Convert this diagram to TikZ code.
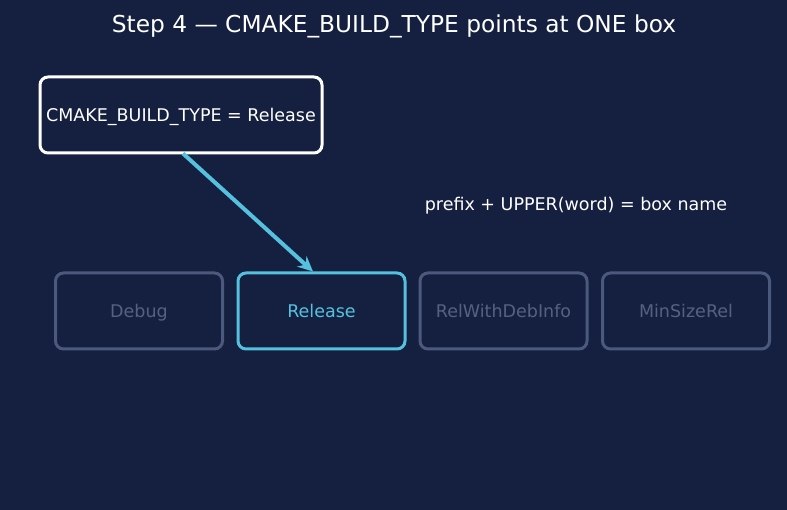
\documentclass[tikz,border=0pt]{standalone}
\usepackage{fontspec}
\setmainfont{DejaVu Sans}
\usetikzlibrary{arrows.meta,calc}
\definecolor{bg}{HTML}{152040}
\definecolor{cyanc}{HTML}{56C1DE}
\definecolor{grayb}{HTML}{4B5A7C}
\definecolor{grayt}{HTML}{53627F}
\tikzset{
  lbl/.style={font=\fontsize{17.5}{20}\selectfont, text=white, text height=13pt, text depth=0pt},
  box/.style={rectangle, rounded corners=8pt, line width=3pt, minimum width=167pt, minimum height=76pt, inner sep=0pt, font=\fontsize{17.5}{20}\selectfont, text height=13pt, text depth=0pt},
  dimbox/.style={box, draw=grayb, text=grayt},
  activebox/.style={box, draw=cyanc, text=cyanc},
  topbox/.style={box, draw=white, text=white, minimum width=282pt},
  pointer/.style={draw=cyanc, line width=4pt, -{Stealth[length=15pt,width=14pt]}}
}
\begin{document}
\begin{tikzpicture}[x=1pt,y=-1pt]
\fill[bg] (0,0) rectangle (787,510);
\useasboundingbox (0,0) rectangle (787,510);
\node[lbl, font=\fontsize{23.3}{26}\selectfont, text height=17pt] (title) at (394,24) {Step 4 — CMAKE\_BUILD\_TYPE points at ONE box};
\node[topbox] (top) at (181,115) {CMAKE\_BUILD\_TYPE = Release};
\node[lbl] (rule) at (576,204) {prefix + UPPER(word) = box name};
\node[dimbox] (debug) at (139,311) {Debug};
\node[activebox] (rel) at (321.5,311) {Release};
\node[dimbox] (rwdi) at (503.5,311) {RelWithDebInfo};
\node[dimbox] (msr) at (686,311) {MinSizeRel};
\draw[pointer] ($(top.south)+(2,-1)$) -- ($(rel.north west)!0.45!(rel.north east)$);
\end{tikzpicture}
\end{document}
